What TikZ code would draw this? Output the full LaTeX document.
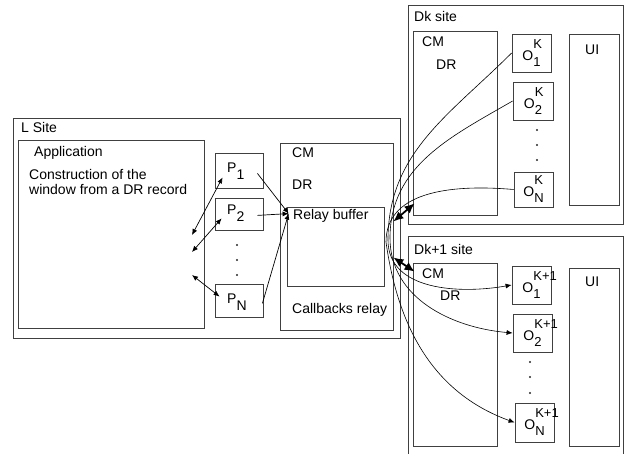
\documentclass[tikz,border=0pt]{standalone}
\usepackage{fontspec}
\setmainfont{Liberation Sans}
\usetikzlibrary{arrows.meta,fit}
\tikzset{
  frame/.style    ={draw=black!75,line width=0.8pt,inner sep=0pt},
  lbl/.style      ={anchor=base west,inner sep=0pt},
  link/.style     ={line width=0.7pt,-{Latex[length=6pt,width=5pt]}},
  duplex/.style   ={line width=0.7pt,{Latex[length=6pt,width=5pt]}-{Latex[length=6pt,width=5pt]}},
  relaylink/.style={line width=1.8pt,{Latex[length=10pt,width=9pt]}-{Latex[length=10pt,width=9pt]}},
  callback/.style ={line width=0.6pt,-{Latex[length=6pt,width=5pt]}},
  dot/.style      ={fill=black!85},
}
\newcommand{\psub}[2]{#1\raisebox{-7pt}{#2}}
\newcommand{\obj}[2]{O\rlap{\raisebox{12pt}{\fontsize{13}{13}\selectfont #1}}\raisebox{-6pt}{\fontsize{13}{13}\selectfont #2}}

\begin{document}
\begin{tikzpicture}[x=1pt,y=-1pt,font=\fontsize{14}{16}\selectfont]
  \useasboundingbox (0,0) rectangle (625,454);
  % L site
  \node[frame,fit={(13,118) (400,338)}] (lsite) {};
  \node[frame,fit={(18,140) (204,328)}] (app) {};
  \node[frame,fit={(215,153) (263,188)}] (p1) {};
  \node[frame,fit={(215,198) (263,230)}] (p2) {};
  \node[frame,fit={(215,284) (263,317)}] (pN) {};
  \node[frame,fit={(280,143) (393,330)}] (lcm) {};
  \node[frame,fit={(287,207) (384,286)}] (relay) {};
  \node[lbl] at (21,133) {L Site};
  \node[lbl] at (34,157) {Application};
  \node[lbl] at (29,180) {Construction of the};
  \node[lbl] at (29,195) {window from a DR record};
  \node[lbl] at (227,173) {\psub{P}{1}};
  \node[lbl] at (227,215) {\psub{P}{2}};
  \node[lbl] at (227,304) {\psub{P}{N}};
  \foreach \y in {245,260,275} \fill[dot] (237,\y) circle (1.2);
  \node[lbl] at (292,158) {CM};
  \node[lbl] at (292,190) {DR};
  \node[lbl] at (293,220) {Relay buffer};
  \node[lbl] at (292,314) {Callbacks relay};
  % Dk site
  \node[frame,fit={(408,5) (623,224)}] (dksite) {};
  \node[frame,fit={(413,31) (497,215)}] (dkcm) {};
  \node[frame,fit={(512,34) (551,72)}] (ok1) {};
  \node[frame,fit={(513,82) (553,120)}] (ok2) {};
  \node[frame,fit={(514,172) (553,207)}] (okN) {};
  \node[frame,fit={(569,34) (619,205)}] (dkui) {};
  \node[lbl] at (414,22) {Dk site};
  \node[lbl] at (422,47) {CM};
  \node[lbl] at (436,70) {DR};
  \node[lbl] at (585,55) {UI};
  \node at (ok1.center) {\obj{K}{1}};
  \node at (ok2.center) {\obj{K}{2}};
  \node at (okN.center) {\obj{K}{N}};
  \foreach \y in {130,145,160} \fill[dot] (537,\y) circle (1.2);
  % Dk+1 site
  \node[frame,fit={(408,236) (623,460)}] (dk1site) {};
  \node[frame,fit={(413,263) (497,446)}] (dk1cm) {};
  \node[frame,fit={(512,266) (551,304)}] (o11) {};
  \node[frame,fit={(513,314) (552,352)}] (o12) {};
  \node[frame,fit={(515,403) (554,442)}] (o1N) {};
  \node[frame,fit={(569,268) (619,446)}] (dk1ui) {};
  \node[lbl] at (414,255) {Dk+1 site};
  \node[lbl] at (422,279) {CM};
  \node[lbl] at (440,301) {DR};
  \node[lbl] at (585,287) {UI};
  \node at (o11.center) {\obj{K+1}{1}};
  \node at (o12.center) {\obj{K+1}{2}};
  \node at (o1N.center) {\obj{K+1}{N}};
  \foreach \y in {362,377,393} \fill[dot] (530,\y) circle (1.2);
  % application <-> proxies
  \coordinate (a1) at (192,235);
  \coordinate (a2) at (192,252);
  \coordinate (aN) at (192,275);
  \draw[duplex] (a1) -- ([shift={(8,-11)}]p1.south west);
  \draw[duplex] (a2) -- ([shift={(7,-12)}]p2.south west);
  \draw[duplex] (aN) -- ([shift={(5,13)}]pN.north west);
  % proxies -> relay buffer
  \coordinate (rin) at ([shift={(2,7)}]relay.north west);
  \draw[link] ([shift={(-6,-15)}]p1.south east) -- (rin);
  \draw[link] ([shift={(-6,-15)}]p2.south east) -- (rin);
  \draw[link] ([shift={(-1,-14)}]pN.south east) -- (rin);
  % relay <-> remote CMs
  \draw[relaylink] ([shift={(0,-15)}]lcm.east) -- ([shift={(2,-12)}]dkcm.south west);
  \draw[relaylink] ([shift={(0,21)}]lcm.east) -- ([shift={(2,9)}]dk1cm.north west);
  % callbacks through the relay
  \coordinate (hub1) at (388,240);
  \coordinate (hub2) at (390,238);
  \coordinate (hub3) at (386,242);
  \draw[callback] (ok1.west) to[out=225,in=90] (hub1) to[out=-90,in=190] (o11.west);
  \draw[callback] (ok2.west) to[out=210,in=90] (hub2) to[out=-90,in=175] (o12.west);
  \draw[callback] (okN.west) to[out=175,in=90] (hub3) to[out=-82,in=160] (o1N.west);
\end{tikzpicture}
\end{document}
